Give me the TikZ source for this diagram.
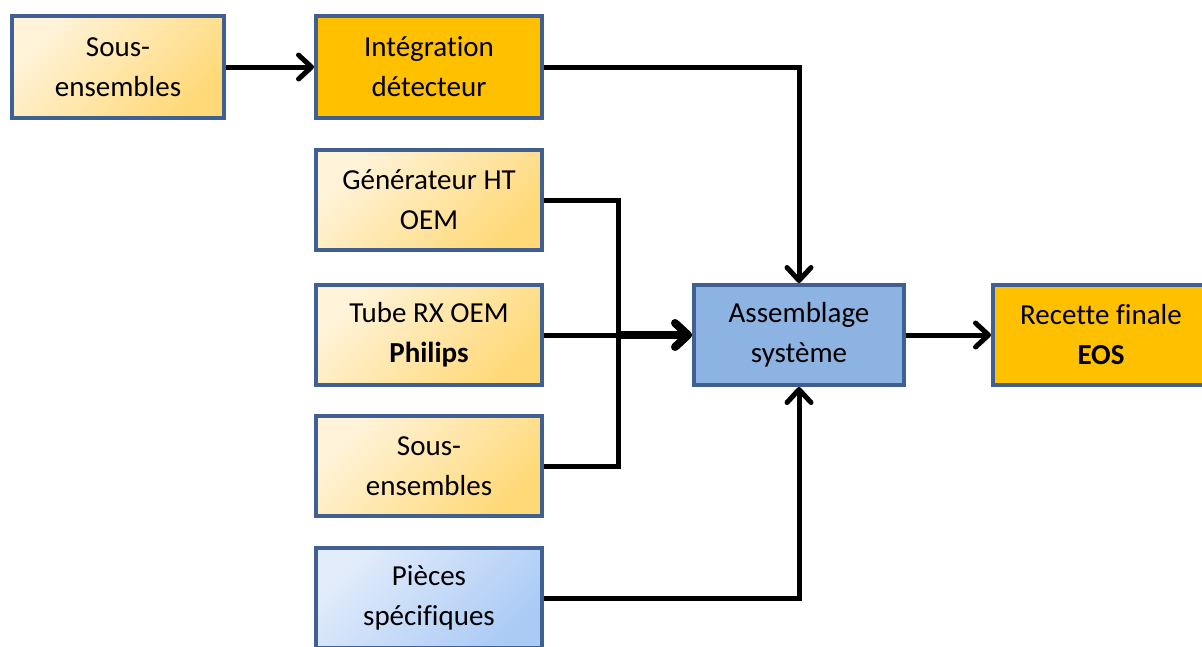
\documentclass[tikz,border=0pt]{standalone}
\usepackage{fontspec}
\setmainfont{Carlito}[Ligatures=NoCommon]
\usetikzlibrary{arrows.meta}
\definecolor{bord}{HTML}{3F6090}
\definecolor{ylight}{HTML}{FFF3DA}
\definecolor{ydark}{HTML}{FFD978}
\definecolor{orng}{HTML}{FFC000}
\definecolor{asmblue}{HTML}{8DB3E2}
\definecolor{blight}{HTML}{E2ECFB}
\definecolor{bdark}{HTML}{ABCBF5}
\tikzset{
  box/.style={draw=bord, line width=4pt, inner sep=0pt, align=center,
    font=\fontsize{29}{40}\selectfont},
  ybox/.style={box, top color=ylight, bottom color=ydark, shading angle=45},
  bbox/.style={box, top color=blight, bottom color=bdark, shading angle=45},
  obox/.style={box, fill=orng},
  plain/.style={line width=5pt,
    preaction={draw=gray, draw opacity=0.5, transform canvas={shift={(1.5pt,-2pt)}}}},
  conn/.style={plain, -{Straight Barb[length=13pt,width=24pt,round]}},
}
\begin{document}
\begin{tikzpicture}[x=1pt,y=-1pt]
\useasboundingbox (0,0) rectangle (1202,646);
\node[ybox, minimum width=212pt, minimum height=102pt] (s1) at (118,67) {Sous-\\ensembles};
\node[obox, minimum width=226pt, minimum height=102pt] (integ) at (429,67) {Intégration\\détecteur};
\node[ybox, minimum width=226pt, minimum height=100pt] (gen) at (429,200) {Générateur HT\\OEM};
\node[ybox, minimum width=226pt, minimum height=100pt] (tube) at (429,335) {Tube RX OEM\\\textbf{Philips}};
\node[ybox, minimum width=226pt, minimum height=100pt] (s2) at (429,466) {Sous-\\ensembles};
\node[bbox, minimum width=226pt, minimum height=100pt] (pie) at (429,598) {Pièces\\spécifiques};
\node[box, fill=asmblue, minimum width=210pt, minimum height=100pt] (asm) at (799,335) {Assemblage\\système};
\node[obox, minimum width=216pt, minimum height=100pt] (rec) at (1101,335) {Recette finale\\\textbf{EOS}};
\coordinate (j) at (618,335);
\draw[conn] (s1.east) -- (integ.west);
\draw[conn] (integ.east) -| (asm.north);
\draw[plain] (gen.east) -| (j);
\draw[plain] (s2.east) -| (j);
\draw[conn] (tube.east) -- (asm.west);
\draw[conn, line width=8pt] (j) -- (asm.west);
\draw[conn] (pie.east) -| (asm.south);
\draw[conn] (asm.east) -- (rec.west);
\end{tikzpicture}
\end{document}
